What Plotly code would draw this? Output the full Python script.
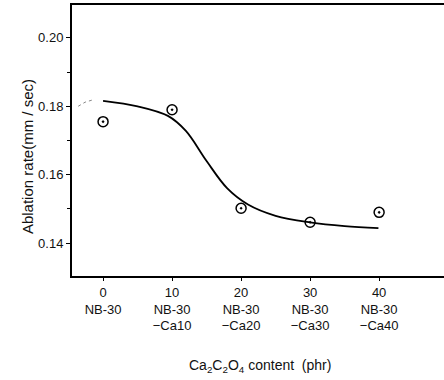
import plotly.graph_objects as go

# Data
content_phr = [0, 10, 20, 30, 40]
tick_labels = ["0<br>NB-30", "10<br>NB-30<br>−Ca10", "20<br>NB-30<br>−Ca20",
               "30<br>NB-30<br>−Ca30", "40<br>NB-30<br>−Ca40"]
ablation_rate = [0.1755, 0.1790, 0.1502, 0.1461, 0.1490]

# Fitted curve
curve_x = [0, 5, 9.4, 12, 15, 18, 21, 25, 30, 35, 39.9]
curve_y = [0.1816, 0.1800, 0.1772, 0.1728, 0.1640, 0.1560, 0.1513, 0.1480, 0.1461,
           0.1450, 0.1444]

# Faint extrapolated segment at left
extra_x = [-3.6, -2.6, -1.6]
extra_y = [0.1800, 0.1812, 0.1818]

fig = go.Figure()
fig.add_trace(go.Scatter(x=extra_x, y=extra_y, mode="lines",
                         line=dict(color="#888", width=1, dash="dot"), showlegend=False))
fig.add_trace(go.Scatter(x=curve_x, y=curve_y, mode="lines", line_shape="spline",
                         line=dict(color="black", width=1.8, smoothing=1.0), showlegend=False))
fig.add_trace(go.Scatter(x=content_phr, y=ablation_rate, mode="markers",
                         marker=dict(symbol="circle-open-dot", size=10, color="black",
                                     line=dict(width=1.5, color="black")),
                         showlegend=False))

font = "Liberation Sans, Arial, sans-serif"
fig.update_layout(
    width=444, height=380,
    margin=dict(l=72, r=0, t=5, b=104),
    paper_bgcolor="white", plot_bgcolor="white",
    font=dict(family=font, size=13, color="#111"),
    xaxis=dict(range=[-4.5, 49.4], tickvals=content_phr, ticktext=tick_labels,
               showline=True, linecolor="black", linewidth=2, mirror=True,
               ticks="outside", ticklen=3, tickcolor="black", showgrid=False,
               zeroline=False, tickfont=dict(size=13)),
    yaxis=dict(range=[0.1304, 0.2096], tickvals=[0.14, 0.16, 0.18, 0.20],
               ticktext=["0.14", "0.16", "0.18", "0.20"],
               showline=True, linecolor="black", linewidth=2, mirror=False,
               ticks="outside", ticklen=4, tickcolor="black", showgrid=False,
               zeroline=False, tickfont=dict(size=13),
               minor=dict(tickvals=[0.15, 0.17, 0.19], ticks="outside", ticklen=3,
                          tickcolor="black")),
    annotations=[
        dict(text="Ablation rate(mm / sec)", xref="paper", yref="y", x=0, y=0.1653,
             xshift=-55, textangle=-90, showarrow=False, font=dict(size=15)),
        dict(text="Ca<sub>2</sub>C<sub>2</sub>O<sub>4</sub> content  (phr)",
             xref="paper", yref="paper", x=0, y=0, xshift=188, yshift=-90,
             xanchor="center", yanchor="middle", showarrow=False, font=dict(size=14)),
    ],
)

fig.write_html("out.html")
